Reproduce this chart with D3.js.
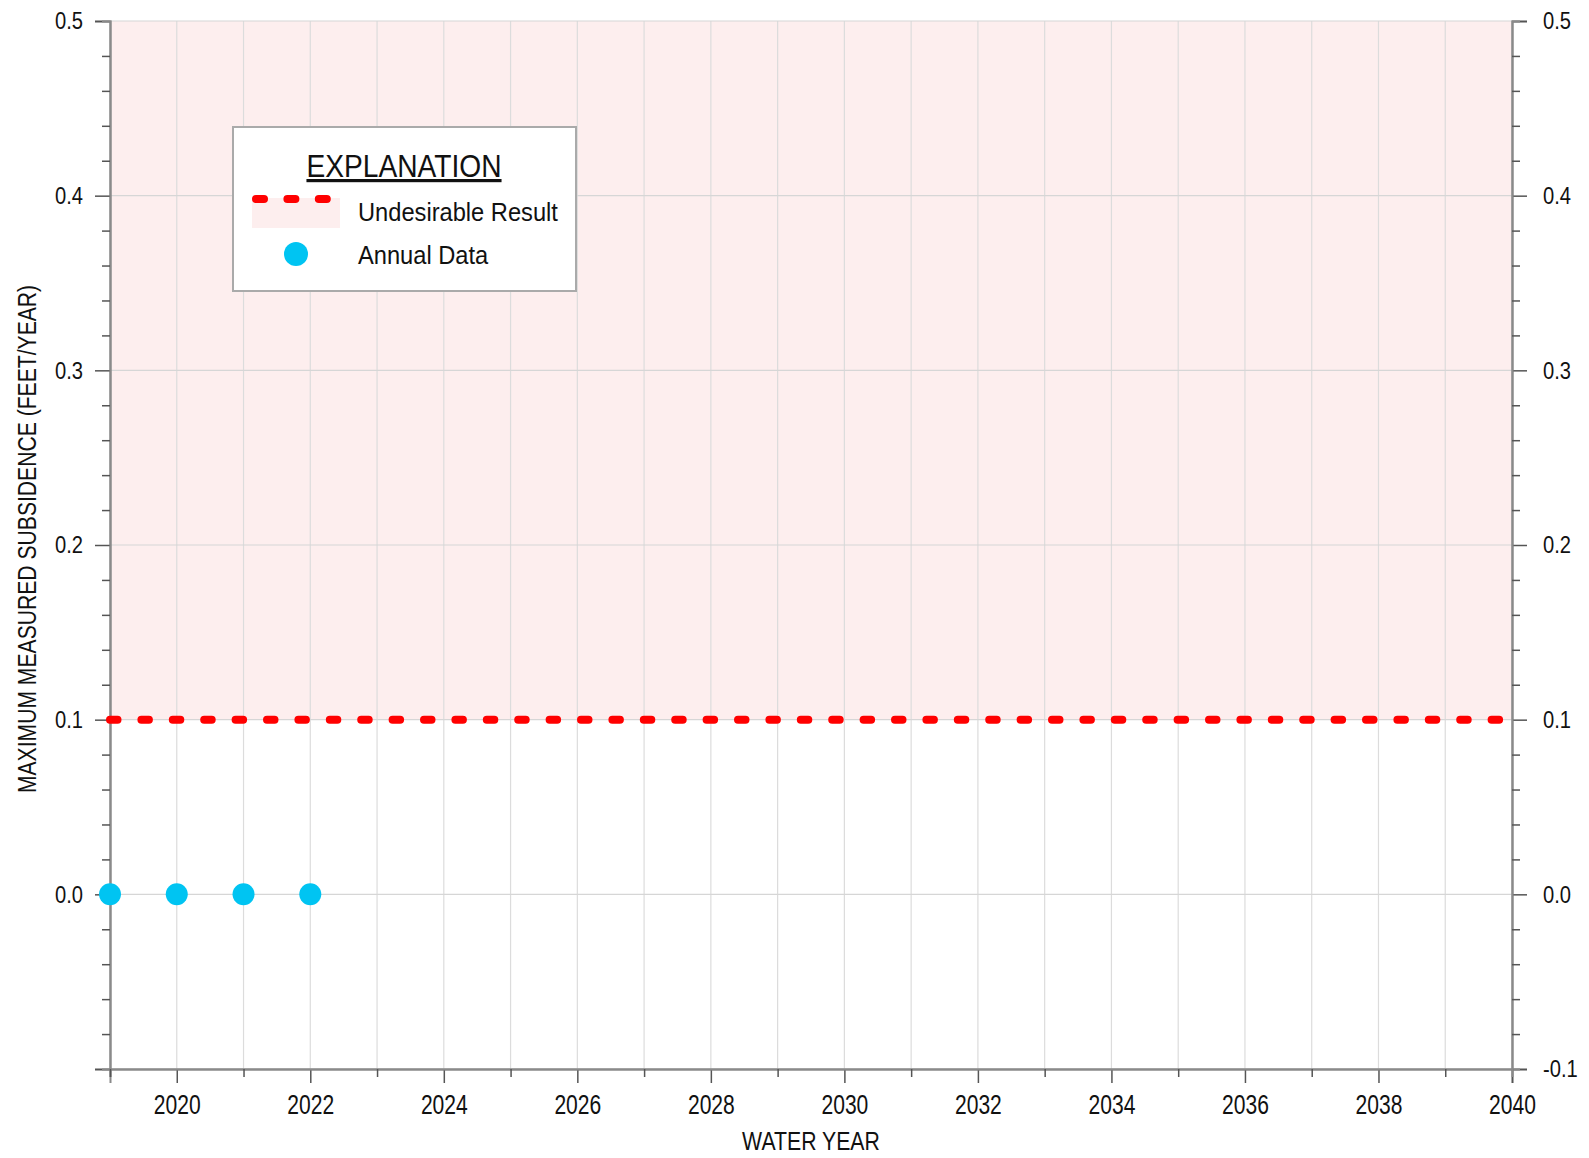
<!DOCTYPE html>
<html>
<head>
<meta charset="utf-8">
<script src="https://cdn.jsdelivr.net/npm/d3@7"></script>
<style>
  body { margin: 0; background: #fff; }
  text { font-family: "Liberation Sans", Arial, sans-serif; fill: #111; }
</style>
</head>
<body>
<div id="chart"></div>
<script>
// data
const years = [2019, 2020, 2021, 2022];
const subsidence = [0.0, 0.0, 0.0, 0.0];
const undesirableResult = 0.1;
const yMajorTicks = [-0.1, 0.0, 0.1, 0.2, 0.3, 0.4, 0.5];
const yMinorTicks = [-0.08, -0.06, -0.04, -0.02, 0.02, 0.04, 0.06, 0.08, 0.12, 0.14, 0.16, 0.18,
  0.22, 0.24, 0.26, 0.28, 0.32, 0.34, 0.36, 0.38, 0.42, 0.44, 0.46, 0.48];
const xLabelTicks = [2020, 2022, 2024, 2026, 2028, 2030, 2032, 2034, 2036, 2038, 2040];
const xMinorTicks = [2019, 2021, 2023, 2025, 2027, 2029, 2031, 2033, 2035, 2037, 2039];

const width = 1589, height = 1158;
const margin = { top: 21, right: 77, bottom: 89, left: 110 };
const w = width - margin.left - margin.right;
const h = height - margin.top - margin.bottom;

const svg = d3.select("#chart").append("svg")
  .attr("width", width).attr("height", height);
const g = svg.append("g").attr("transform", `translate(${margin.left},${margin.top})`);

const x = d3.scaleLinear().domain([2019, 2040]).range([0, w]);
const y = d3.scaleLinear().domain([-0.1, 0.5]).range([h, 0]);

// the original uses a narrow font, so squeeze the text horizontally
function narrow(sel, factor) {
  sel.each(function() {
    const len = this.getComputedTextLength();
    if (len > 0) {
      d3.select(this).attr("textLength", len * factor).attr("lengthAdjust", "spacingAndGlyphs");
    }
  });
}

// shaded undesirable zone
g.append("rect")
  .attr("x", 0).attr("y", y(0.5))
  .attr("width", w).attr("height", y(undesirableResult) - y(0.5))
  .attr("fill", "#fdeeee");

// gridlines
const allYears = d3.range(2019, 2041);
g.selectAll(".vgrid").data(allYears).enter().append("line")
  .attr("x1", d => x(d)).attr("x2", d => x(d))
  .attr("y1", 0).attr("y2", h)
  .attr("stroke", "#dcdcdc").attr("stroke-width", 1.2);
g.selectAll(".hgrid").data(yMajorTicks).enter().append("line")
  .attr("x1", 0).attr("x2", w)
  .attr("y1", d => y(d)).attr("y2", d => y(d))
  .attr("stroke", "#d6d6d6").attr("stroke-width", 1.2);

// axes
function styleAxis(sel) {
  sel.select(".domain").attr("stroke", "#8a8a8a").attr("stroke-width", 2);
  sel.selectAll(".tick line").attr("stroke", "#555").attr("stroke-width", 1.5);
  sel.selectAll(".tick text").attr("fill", "#111");
}

const yFmt = d => d.toFixed(1);
g.append("g")
  .call(d3.axisLeft(y).tickValues(yMajorTicks).tickSize(15).tickPadding(12)
    .tickFormat(d => d < 0 ? "" : yFmt(d)))
  .call(styleAxis)
  .selectAll("text").style("font-size", "24px").call(narrow, 0.84);
g.append("g")
  .call(d3.axisLeft(y).tickValues(yMinorTicks).tickSize(8).tickFormat(""))
  .call(styleAxis);

g.append("g").attr("transform", `translate(${w},0)`)
  .call(d3.axisRight(y).tickValues(yMajorTicks).tickSize(15).tickPadding(16).tickFormat(yFmt))
  .call(styleAxis)
  .selectAll("text").style("font-size", "24px").call(narrow, 0.84);
g.append("g").attr("transform", `translate(${w},0)`)
  .call(d3.axisRight(y).tickValues(yMinorTicks).tickSize(8).tickFormat(""))
  .call(styleAxis);

g.append("g").attr("transform", `translate(0,${h})`)
  .call(d3.axisBottom(x).tickValues(xLabelTicks).tickSize(14).tickPadding(12).tickFormat(d3.format("d")))
  .call(styleAxis)
  .selectAll("text").style("font-size", "27px").call(narrow, 0.78);
g.append("g").attr("transform", `translate(0,${h})`)
  .call(d3.axisBottom(x).tickValues(xMinorTicks).tickSize(8).tickFormat(""))
  .call(styleAxis);

// undesirable result line
g.append("line")
  .attr("x1", x(2019)).attr("x2", x(2040))
  .attr("y1", y(undesirableResult)).attr("y2", y(undesirableResult))
  .attr("stroke", "#ff0000").attr("stroke-width", 8)
  .attr("stroke-linecap", "round")
  .attr("stroke-dasharray", "7.5,23.9");

// annual data
g.selectAll(".pt").data(years).enter().append("circle")
  .attr("cx", d => x(d))
  .attr("cy", (d, i) => y(subsidence[i]))
  .attr("r", 11)
  .attr("fill", "#00c4f2");

// axis titles
svg.append("text")
  .attr("x", margin.left + w / 2).attr("y", 1150)
  .attr("text-anchor", "middle").style("font-size", "25px")
  .text("WATER YEAR").call(narrow, 0.85);
svg.append("text")
  .attr("transform", `translate(36,${margin.top + h / 2 - 6}) rotate(-90)`)
  .attr("text-anchor", "middle").style("font-size", "25px")
  .text("MAXIMUM MEASURED SUBSIDENCE (FEET/YEAR)").call(narrow, 0.845);

// legend
const lg = svg.append("g");
lg.append("rect")
  .attr("x", 233).attr("y", 127).attr("width", 343).attr("height", 164)
  .attr("fill", "#fff").attr("stroke", "#aaa").attr("stroke-width", 2);
lg.append("text")
  .attr("x", 404).attr("y", 177).attr("text-anchor", "middle")
  .style("font-size", "32px").style("text-decoration", "underline")
  .text("EXPLANATION").call(narrow, 0.88);
lg.append("rect")
  .attr("x", 252).attr("y", 198).attr("width", 88).attr("height", 30)
  .attr("fill", "#fdeeee");
lg.append("line")
  .attr("x1", 256).attr("x2", 330).attr("y1", 199).attr("y2", 199)
  .attr("stroke", "#ff0000").attr("stroke-width", 8)
  .attr("stroke-linecap", "round")
  .attr("stroke-dasharray", "8,23.4");
lg.append("text").attr("x", 358).attr("y", 221).style("font-size", "26px")
  .text("Undesirable Result").call(narrow, 0.91);
lg.append("circle").attr("cx", 296).attr("cy", 254).attr("r", 12).attr("fill", "#00c4f2");
lg.append("text").attr("x", 358).attr("y", 264).style("font-size", "26px")
  .text("Annual Data").call(narrow, 0.91);
</script>
</body>
</html>
